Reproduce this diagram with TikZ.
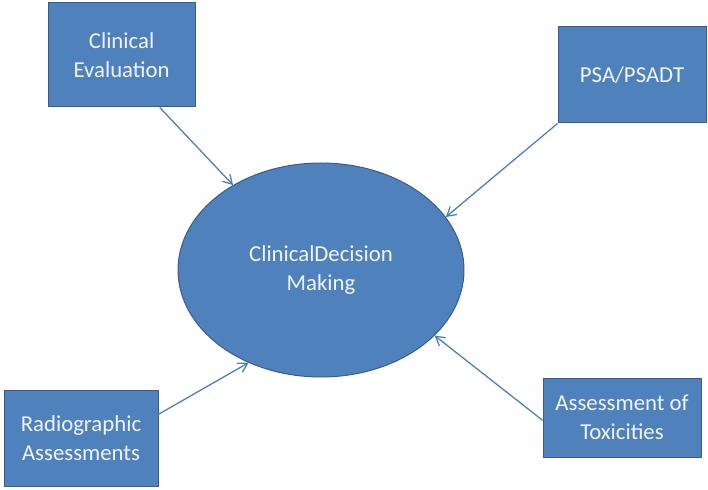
\documentclass[tikz,border=0pt]{standalone}
\usepackage{fontspec}
\setmainfont{Carlito}
\usepackage{tikz}
\usetikzlibrary{arrows.meta,shapes.geometric}
\definecolor{boxblue}{HTML}{4F81BD}
\definecolor{edgeblue}{HTML}{385D8A}
\definecolor{linkblue}{HTML}{4A7EBB}
\tikzset{box/.style={rectangle, inner sep=0pt},
  blob/.style={ellipse, inner sep=0pt, minimum width=7.15cm,
  minimum height=5.35cm}}

\begin{document}
\begin{tikzpicture}[every node/.style={draw=edgeblue, fill=boxblue,
  line width=0.7pt, text=white!92!boxblue, align=center,
  font=\fontsize{16.2}{20.6}\selectfont}, >={Straight Barb[length=2.2mm, width=2.6mm]}]
  \useasboundingbox (0, 0) rectangle (17.7, 12.25);
  \node[box, minimum width=3.675cm, minimum height=2.6cm]   (ce)  at (3.04, 10.875) {Clinical\\Evaluation};
  \node[box, minimum width=3.7cm, minimum height=2.4cm]     (psa) at (15.8, 10.375) {PSA/PSADT};
  \node[box, minimum width=3.85cm, minimum height=2.4cm]    (rad) at (2.025, 1.3)   {Radiographic\\Assessments};
  \node[box, minimum width=3.95cm, minimum height=1.975cm]  (tox) at (15.55, 1.8125) {Assessment of\\Toxicities};
  \node[blob] (cdm) at (8.025, 5.5) {ClinicalDecision\\Making};
  \draw[->, linkblue, line width=0.9pt] (ce.-54)          -- (cdm.136);
  \draw[->, linkblue, line width=0.9pt] (psa.south west)  -- (cdm.23);
  \draw[->, linkblue, line width=0.9pt] (rad.17)          -- (cdm.-128);
  \draw[->, linkblue, line width=0.9pt] (tox.182)         -- (cdm.-30);
\end{tikzpicture}
\end{document}
